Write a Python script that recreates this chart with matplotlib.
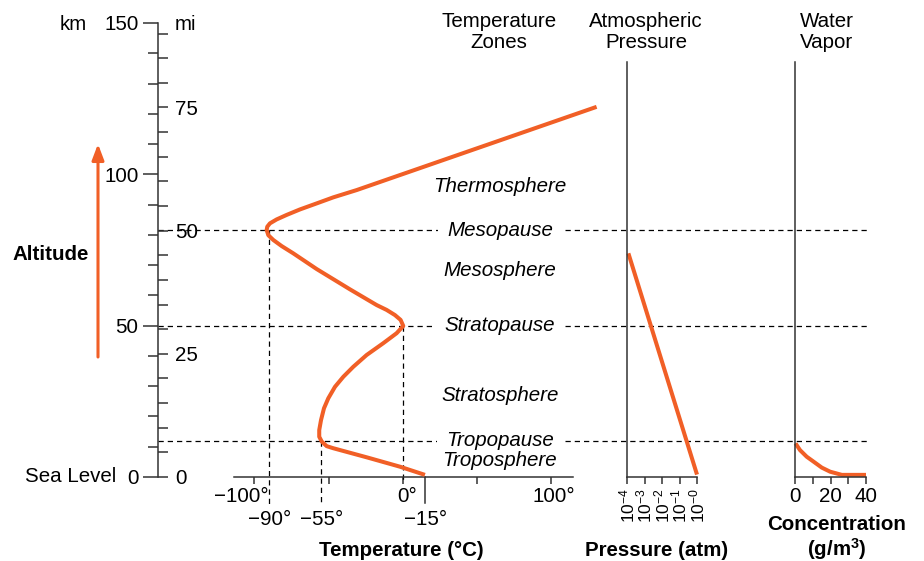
import matplotlib
matplotlib.use("Agg")
import matplotlib.pyplot as plt

plt.rcParams["font.family"] = ["Liberation Sans", "DejaVu Sans"]
plt.rcParams["mathtext.fontset"] = "custom"
plt.rcParams["mathtext.rm"] = "Liberation Sans"
plt.rcParams["mathtext.default"] = "regular"

ORANGE = "#F15F26"
INK = "#333333"
FS = 14.8
W, H = 924, 561
KM_PER_MI = 1.628  # as drawn on the original scale

# --- data ---
# temperature profile (deg C vs km), top of thermosphere down to sea level
temp_c = [130.4, -31.2, -46.9, -58.1, -69.4, -78.3, -85.1, -89.6, -91.4, -91.8,
          -90.7, -87.3, -81.7, -73.9, -58.1, -35.7, -17.7, -11.0, -5.4, -1.6,
          0.2, -4.3, -13.3, -24.5, -33.5, -40.2, -45.8, -50.3, -53.2, -55.2,
          -56.4, -56.4, -54.7, -51.4, -46.9, -24.4, -2.0, 14.8]
temp_alt = [122.3, 94.8, 92.4, 90.4, 88.4, 86.6, 85.1, 83.8, 82.7, 81.6,
            79.9, 78.3, 76.3, 73.9, 68.7, 62.0, 56.8, 55.2, 53.5, 51.9,
            49.9, 47.5, 44.2, 40.3, 36.4, 33.1, 29.8, 26.0, 22.7, 18.8,
            15.5, 13.3, 11.7, 10.2, 9.5, 6.5, 3.4, 0.7]

# pressure (atm, log scale) vs km
press_atm = [1.2e-4, 1.0]
press_alt = [73.9, 0.8]

# water vapour concentration (g/m^3) vs km
vapor_conc = [0.3, 2.8, 6.6, 10.4, 15.1, 19.8, 26.4, 40.0]
vapor_alt = [11.1, 8.9, 6.7, 5.1, 3.1, 1.75, 0.7, 0.7]

# boundaries between layers (km)
pause_names = ["Mesopause", "Stratopause", "Tropopause"]
pause_alt = [81.5, 50.0, 12.0]
pause_temp = [-90, 0, -55]

zone_names = ["Thermosphere", "Mesosphere", "Stratosphere", "Troposphere"]
zone_alt = [96.1, 68.1, 26.8, 5.3]

km_ticks = [0, 50, 100, 150]
mi_labels = [0, 25, 50, 75]
temp_ticks = [-100, -50, 0, 50, 100]
press_ticks = [1e-4, 1e-3, 1e-2, 1e-1, 1.0]
press_labels = ["10$^{-4}$", "10$^{-3}$", "10$^{-2}$", "10$^{-1}$", "10$^{-0}$"]
vapor_ticks = [0, 10, 20, 30, 40]
sea_temp = 15  # labelled "−15°" in the original


def box(x0, y_top, x1, y_bot):
    return [x0 / W, 1 - y_bot / H, (x1 - x0) / W, (y_bot - y_top) / H]


def fig_text(x, y, s, **kw):
    kw.setdefault("fontsize", FS)
    fig.text(x / W, 1 - y / H, s, **kw)


fig = plt.figure(figsize=(W / 100, H / 100), dpi=100)

# --- altitude axis (km on the left) ---
ax_alt = fig.add_axes(box(158, 23, 868, 477))
ax_alt.patch.set_visible(False)
ax_alt.set_xlim(0, 1)
ax_alt.set_ylim(0, 150)
for s in ["top", "right", "bottom"]:
    ax_alt.spines[s].set_visible(False)
ax_alt.spines["left"].set_color(INK)
ax_alt.spines["left"].set_linewidth(1.1)
ax_alt.set_xticks([])
ax_alt.set_yticks(km_ticks)
ax_alt.set_yticklabels([str(k) for k in km_ticks])
ax_alt.set_yticks(range(0, 151, 10), minor=True)
ax_alt.tick_params(axis="y", which="major", length=11, width=1.1, color=INK,
                   pad=3, labelsize=FS)
ax_alt.tick_params(axis="y", which="minor", length=7.2, width=1.1, color=INK)
for y in pause_alt:
    ax_alt.axhline(y, color="black", lw=0.9, dashes=(4.2, 3.2))

# --- miles ticks on the right of the same axis line ---
ax_mi = fig.add_axes(box(158, 23, 158.05, 477))
ax_mi.patch.set_visible(False)
ax_mi.set_ylim(0, 150 / KM_PER_MI)
for s in ax_mi.spines.values():
    s.set_visible(False)
ax_mi.set_xticks([])
ax_mi.set_yticks(range(0, 91, 5))
ax_mi.set_yticklabels([str(m) if m in mi_labels else "" for m in range(0, 91, 5)])
ax_mi.tick_params(axis="y", left=False, labelleft=False, right=True, labelright=True,
                  length=7.5, width=1.1, color=INK, pad=5, labelsize=FS)

# --- temperature panel ---
ax_t = fig.add_axes(box(234, 23, 573, 477))
ax_t.patch.set_visible(False)
ax_t.set_xlim(-113.8, 114.5)
ax_t.set_ylim(0, 150)
for s in ["top", "right", "left"]:
    ax_t.spines[s].set_visible(False)
ax_t.spines["bottom"].set_color(INK)
ax_t.spines["bottom"].set_linewidth(1.1)
ax_t.set_yticks([])
ax_t.set_xticks(temp_ticks)
ax_t.set_xticklabels([])
ax_t.tick_params(axis="x", length=5, width=1.1, color=INK)

for t, a in zip(pause_temp, pause_alt):
    bottom = -1.5 if t == 0 else -9.3
    ax_t.plot([t, t], [a, bottom], color="black", lw=0.9, dashes=(4.2, 3.2),
              clip_on=False)
ax_t.plot([sea_temp, sea_temp], [0, -8.7], color=INK, lw=1.1, clip_on=False)

ax_t.plot(temp_c, temp_alt, color=ORANGE, lw=2.9, clip_on=False,
          solid_capstyle="butt", solid_joinstyle="round", zorder=5)

row1 = [(-109.2, "\u2212100\u00b0"), (2.5, "0\u00b0"), (101.7, "100\u00b0")]
for x, s in row1:
    ax_t.text(x, -6.6, s, ha="center", va="center", fontsize=FS, clip_on=False)
for t in [-90, -55]:
    ax_t.text(t, -14.2, f"\u2212{abs(t)}\u00b0", ha="center", va="center",
              fontsize=FS, clip_on=False)
ax_t.text(sea_temp, -14.2, "\u221215\u00b0", ha="center", va="center",
          fontsize=FS, clip_on=False)

for name, a in zip(pause_names, pause_alt):
    ax_t.text(65.3, a, name, ha="center", va="center", fontsize=FS, style="italic",
              bbox=dict(boxstyle="square,pad=0.42", fc="white", ec="none"), zorder=6)
for name, a in zip(zone_names, zone_alt):
    ax_t.text(65.3, a, name, ha="center", va="center", fontsize=FS, style="italic",
              zorder=7)

# --- pressure panel ---
ax_p = fig.add_axes(box(627, 23, 697, 477))
ax_p.patch.set_visible(False)
ax_p.set_xscale("log")
ax_p.set_xlim(1e-4, 1)
ax_p.set_ylim(0, 150)
for s in ["top", "right"]:
    ax_p.spines[s].set_visible(False)
for s in ["left", "bottom"]:
    ax_p.spines[s].set_color(INK)
    ax_p.spines[s].set_linewidth(1.1)
ax_p.spines["left"].set_bounds(0, 137)
ax_p.set_yticks([])
ax_p.set_xticks(press_ticks)
ax_p.set_xticklabels(press_labels, rotation=90)
ax_p.xaxis.set_minor_locator(matplotlib.ticker.NullLocator())
ax_p.tick_params(axis="x", length=5, width=1.1, color=INK, pad=3, labelsize=12.5)
ax_p.plot(press_atm, press_alt, color=ORANGE, lw=2.9, clip_on=False,
          solid_capstyle="butt")

# --- water vapour panel ---
ax_w = fig.add_axes(box(795, 23, 866, 477))
ax_w.patch.set_visible(False)
ax_w.set_xlim(0, 40)
ax_w.set_ylim(0, 150)
for s in ["top", "right"]:
    ax_w.spines[s].set_visible(False)
for s in ["left", "bottom"]:
    ax_w.spines[s].set_color(INK)
    ax_w.spines[s].set_linewidth(1.1)
ax_w.spines["left"].set_bounds(0, 137)
ax_w.set_yticks([])
ax_w.set_xticks(vapor_ticks)
ax_w.set_xticklabels([str(v) if v % 20 == 0 else "" for v in vapor_ticks])
ax_w.tick_params(axis="x", length=5, width=1.1, color=INK, pad=2, labelsize=FS)
ax_w.plot(vapor_conc, vapor_alt, color=ORANGE, lw=2.9, clip_on=False,
          solid_capstyle="butt")

# --- headers and labels ---
fig_text(499, 32, "Temperature\nZones", ha="center", va="center", linespacing=1.15)
fig_text(646, 32, "Atmospheric\nPressure", ha="center", va="center", linespacing=1.15)
fig_text(827, 32, "Water\nVapor", ha="center", va="center", linespacing=1.15)

fig_text(73, 24, "km", ha="center", va="center")
fig_text(175, 24, "mi", ha="left", va="center")
fig_text(116, 477, "Sea Level", ha="right", va="center")
fig_text(51, 255, "Altitude", ha="center", va="center", fontweight="bold")

fig_text(401, 551, "Temperature (\u00b0C)", ha="center", va="center", fontweight="bold")
fig_text(657, 551, "Pressure (atm)", ha="center", va="center", fontweight="bold")
fig_text(837, 524, "Concentration", ha="center", va="center", fontweight="bold")
fig_text(837, 549, "(g/m$^3$)", ha="center", va="center", fontweight="bold")

ax_alt.annotate("", xy=(98, H - 144), xytext=(98, H - 357),
                xycoords="figure pixels", textcoords="figure pixels",
                arrowprops=dict(arrowstyle="-|>,head_length=0.95,head_width=0.36",
                                color=ORANGE, lw=2.2, shrinkA=0, shrinkB=0,
                                mutation_scale=10))

fig.savefig("out.png", dpi=100)
